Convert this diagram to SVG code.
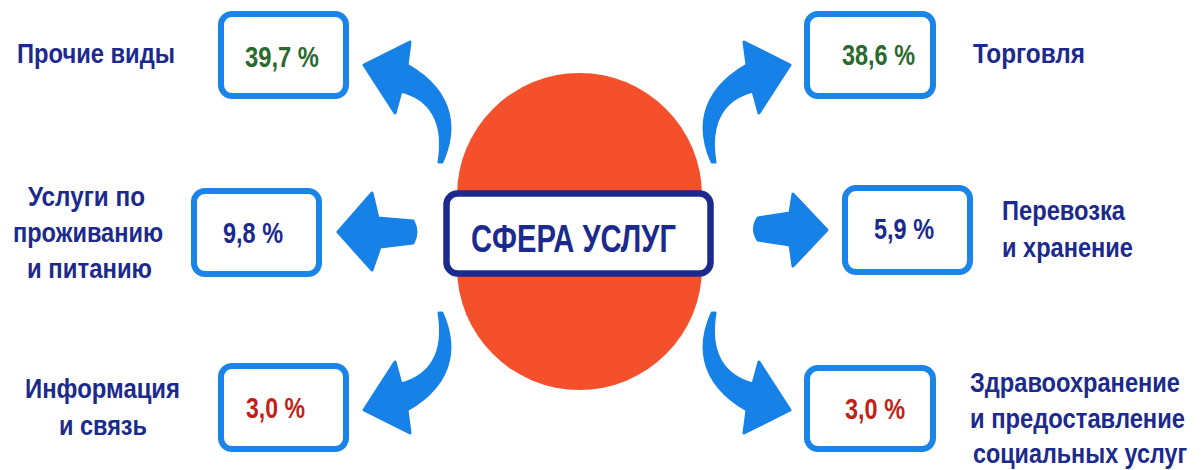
<svg xmlns="http://www.w3.org/2000/svg" width="1201" height="470" viewBox="0 0 1201 470">
<style>
.box{fill:#ffffff;stroke:#1a84e8;stroke-width:6}
.arrow{fill:#1681e6;stroke:#1681e6;stroke-width:3;stroke-linejoin:round}
text{font-family:"Liberation Sans Narrow","Liberation Sans",Arial,sans-serif;font-weight:bold}
.lbl{fill:#1b2a8c;font-size:27px}
.val{font-size:30px;text-anchor:middle}
.green{fill:#2b6a2e}
.navy{fill:#1b2a8c}
.red{fill:#c21f1a}
</style>
<defs>
<path id="curved" d="M712 162 C700 135 695 95 747 65 L744 42 L790 65 L759 113 L753 91 C725 98 708 120 715 162 Z"/>
</defs>
<rect width="1201" height="470" fill="#ffffff"/>
<g id="hub">
<rect x="457" y="73" width="245" height="317" rx="122.5" ry="122.5" fill="#f5502c"/>
<rect x="446.5" y="193.5" width="264" height="80" rx="11" fill="#ffffff" stroke="#1b2a8c" stroke-width="6.5"/>
<text x="573.5" y="252" font-size="38" text-anchor="middle" fill="#1b2a8c" textLength="205" lengthAdjust="spacingAndGlyphs">СФЕРА УСЛУГ</text>
</g>
<g id="connectors">
<use href="#curved" class="arrow"/>
<use href="#curved" class="arrow" transform="translate(1154,0) scale(-1,1)"/>
<use href="#curved" class="arrow" transform="translate(0,475) scale(1,-1)"/>
<use href="#curved" class="arrow" transform="translate(1154,475) scale(-1,-1)"/>
<path class="arrow" d="M338 232 L372 193 L378 218 L413 221 Q419 232 413 243 L380 247 L372 270 Z"/>
<path class="arrow" d="M827 230 L793 194 L790 213 L758 218 Q751 229 758 240 L790 245 L793 266 Z"/>
</g>
<g id="node-prochie">
<rect class="box" x="221" y="14" width="125" height="82" rx="11"/>
<text class="val green" x="282" y="67" textLength="74" lengthAdjust="spacingAndGlyphs">39,7 %</text>
<text class="lbl" x="17" y="63" textLength="158" lengthAdjust="spacingAndGlyphs">Прочие виды</text>
</g>
<g id="node-torgovlya">
<rect class="box" x="807" y="14" width="126" height="82" rx="11"/>
<text class="val green" x="878.5" y="65" textLength="73" lengthAdjust="spacingAndGlyphs">38,6 %</text>
<text class="lbl" x="973" y="63" textLength="112" lengthAdjust="spacingAndGlyphs">Торговля</text>
</g>
<g id="node-prozhivanie">
<rect class="box" x="194" y="191" width="125" height="83" rx="11"/>
<text class="val navy" x="253" y="243" textLength="60" lengthAdjust="spacingAndGlyphs">9,8 %</text>
<text class="lbl" x="28" y="206" textLength="117" lengthAdjust="spacingAndGlyphs">Услуги по</text>
<text class="lbl" x="13" y="242" textLength="150" lengthAdjust="spacingAndGlyphs">проживанию</text>
<text class="lbl" x="27" y="278" textLength="125" lengthAdjust="spacingAndGlyphs">и питанию</text>
</g>
<g id="node-perevozka">
<rect class="box" x="845" y="188" width="125" height="84" rx="11"/>
<text class="val navy" x="904" y="239" textLength="60" lengthAdjust="spacingAndGlyphs">5,9 %</text>
<text class="lbl" x="1002" y="220" textLength="123" lengthAdjust="spacingAndGlyphs">Перевозка</text>
<text class="lbl" x="1002" y="257" textLength="131" lengthAdjust="spacingAndGlyphs">и хранение</text>
</g>
<g id="node-informaciya">
<rect class="box" x="221" y="366" width="125" height="83" rx="11"/>
<text class="val red" x="275.5" y="418" textLength="59" lengthAdjust="spacingAndGlyphs">3,0 %</text>
<text class="lbl" x="25" y="398" textLength="155" lengthAdjust="spacingAndGlyphs">Информация</text>
<text class="lbl" x="59" y="435" textLength="88" lengthAdjust="spacingAndGlyphs">и связь</text>
</g>
<g id="node-zdravoohranenie">
<rect class="box" x="807" y="368" width="126" height="81" rx="11"/>
<text class="val red" x="875" y="419" textLength="60" lengthAdjust="spacingAndGlyphs">3,0 %</text>
<g transform="translate(970,0) scale(0.84,1)">
<text class="lbl" x="0" y="392" textLength="250" lengthAdjust="spacingAndGlyphs">Здравоохранение</text>
<text class="lbl" x="0" y="428" textLength="256" lengthAdjust="spacingAndGlyphs">и предоставление</text>
<text class="lbl" x="3.6" y="463" textLength="255" lengthAdjust="spacingAndGlyphs">социальных услуг</text>
</g>
</g>
</svg>
